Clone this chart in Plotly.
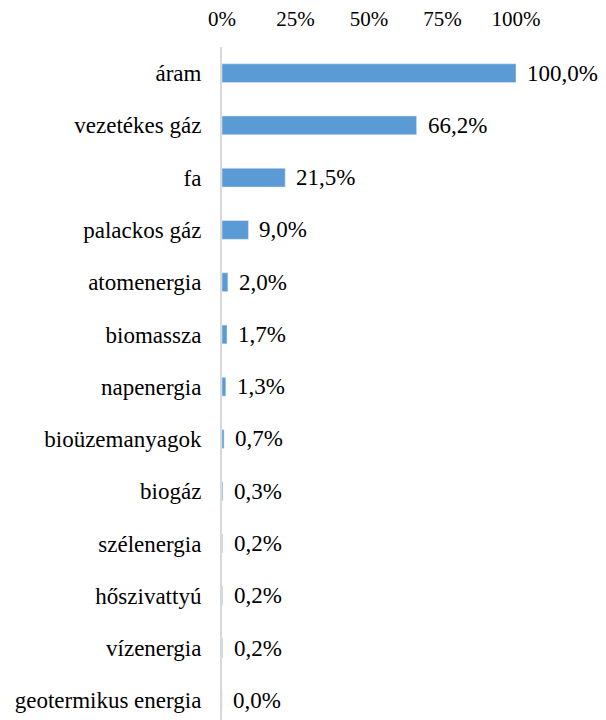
import plotly.graph_objects as go

categories = ["áram", "vezetékes gáz", "fa", "palackos gáz", "atomenergia", "biomassza",
              "napenergia", "bioüzemanyagok", "biogáz", "szélenergia", "hőszivattyú",
              "vízenergia", "geotermikus energia"]
values = [100.0, 66.2, 21.5, 9.0, 2.0, 1.7, 1.3, 0.7, 0.3, 0.2, 0.2, 0.2, 0.0]
value_labels = [f"{v:.1f}%".replace(".", ",") for v in values]
tick_vals = [0, 25, 50, 75, 100]
tick_text = ["0%", "25%", "50%", "75%", "100%"]

font_family = "'Times New Roman', 'Liberation Serif', 'DejaVu Serif', serif"

fig = go.Figure(go.Bar(
    x=values, y=categories, orientation="h",
    marker=dict(color="#5B9BD5"),
    width=0.36,
    hoverinfo="x+y",
))

for cat, v, lab in zip(categories, values, value_labels):
    fig.add_annotation(x=v, y=cat, text=lab, showarrow=False, xanchor="left",
                       xshift=9, yshift=0,
                       font=dict(family=font_family, size=23, color="#000000"))

fig.update_layout(
    width=606, height=720,
    margin=dict(l=214, r=98, t=39, b=0),
    paper_bgcolor="white", plot_bgcolor="white",
    showlegend=False,
    font=dict(family=font_family, size=23, color="#000000"),
    xaxis=dict(side="top", range=[0, 100], tickvals=tick_vals, ticktext=tick_text,
               showgrid=False, zeroline=False, showline=False, automargin=False,
               ticks="outside", ticklen=12, tickcolor="rgba(0,0,0,0)",
               tickfont=dict(family=font_family, size=21)),
    yaxis=dict(categoryorder="array", categoryarray=categories,
               range=[12.53, -0.5], showgrid=False, zeroline=False, automargin=False,
               showline=True, linecolor="#D9D9D9", linewidth=2,
               ticks="", ticklabelstandoff=14,
               tickfont=dict(family=font_family, size=23)),
)

fig.write_html("out.html")
